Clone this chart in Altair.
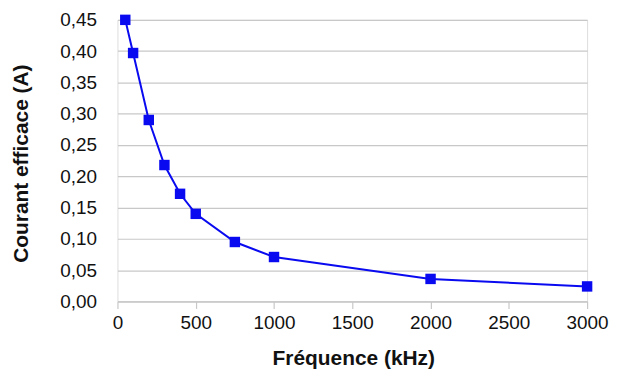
import altair as alt
import pandas as pd

freq_khz = [50, 100, 200, 300, 400, 500, 750, 1000, 2000, 3000]
courant_a = [0.450, 0.397, 0.290, 0.218, 0.172, 0.140, 0.095, 0.071, 0.036, 0.024]

df = pd.DataFrame({"f": freq_khz, "i": courant_a})

FONT = "Liberation Sans"
BLUE = "#0a0af0"
GRID = "#c8c8c8"
TXT = "#111111"

x = alt.X(
    "f:Q",
    scale=alt.Scale(domain=[0, 3000], nice=False, zero=False),
    axis=alt.Axis(
        title="Fréquence (kHz)",
        values=[0, 500, 1000, 1500, 2000, 2500, 3000],
        format="d",
        grid=False,
        domainColor=GRID,
        domainWidth=1.2,
        tickColor=GRID,
        tickWidth=1.2,
        tickSize=7,
        labelPadding=5,
        labelFont=FONT,
        labelFontSize=19,
        labelColor=TXT,
        labelOverlap=False,
        labelFlush=False,
        titleFont=FONT,
        titleFontSize=21,
        titleFontWeight="bold",
        titleColor=TXT,
        titleX=237,
        titleY=57,
        titleAlign="center",
        titleBaseline="middle",
    ),
)
y = alt.Y(
    "i:Q",
    scale=alt.Scale(domain=[0, 0.45], nice=False, zero=True),
    axis=alt.Axis(
        title="Courant efficace (A)",
        values=[0, 0.05, 0.10, 0.15, 0.20, 0.25, 0.30, 0.35, 0.40, 0.45],
        labelExpr="replace(format(datum.value, '.2f'), '.', ',')",
        grid=True,
        gridColor=GRID,
        gridWidth=1.2,
        domain=False,
        ticks=False,
        labelPadding=21,
        labelFont=FONT,
        labelFontSize=19,
        labelColor=TXT,
        labelOverlap=False,
        labelFlush=False,
        titleFont=FONT,
        titleFontSize=21,
        titleFontWeight="bold",
        titleColor=TXT,
        titleX=-96,
        titleY=144,
        titleAngle=-90,
        titleAlign="center",
        titleBaseline="middle",
    ),
)

line = alt.Chart(df).mark_line(color=BLUE, strokeWidth=2).encode(x=x, y=y)
pts = alt.Chart(df).mark_square(color=BLUE, size=110, opacity=1).encode(x=x, y=y)

chart = (
    (line + pts)
    .properties(
        width=472,
        height=283,
        autosize=alt.AutoSizeParams(type="none"),
        padding={"left": 110, "top": 11, "right": 22, "bottom": 70},
    )
    .configure_view(stroke=GRID, strokeWidth=1.2)
    .configure(background="white")
)

chart.save("out.html", embed_options={"renderer": "svg", "actions": False})
